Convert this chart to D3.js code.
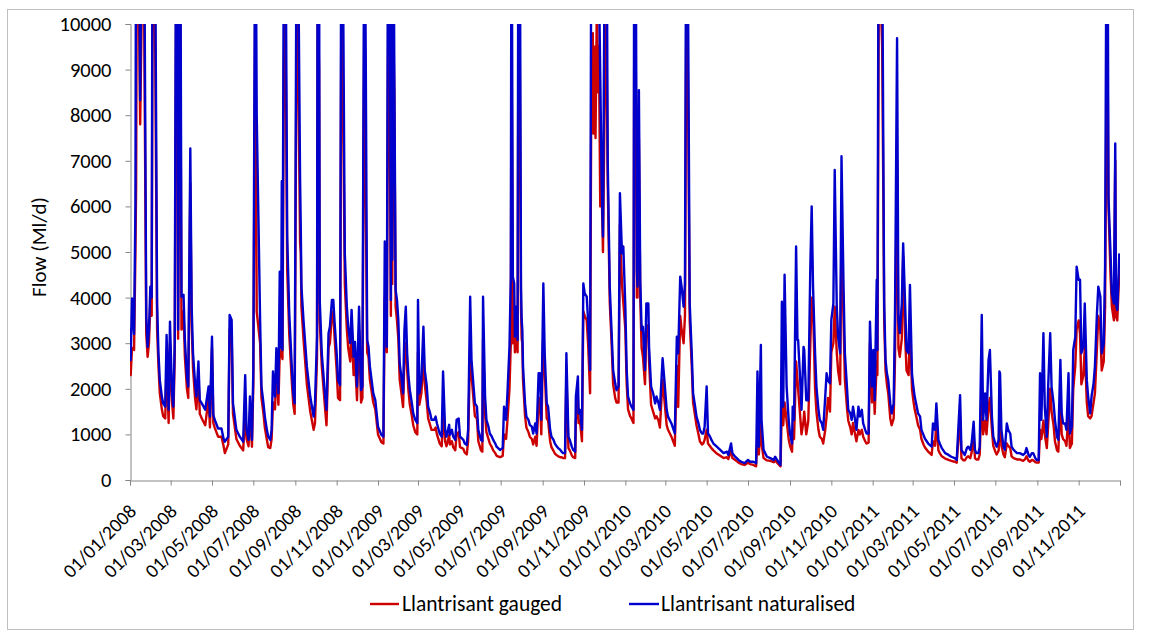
<!DOCTYPE html>
<html>
<head>
<meta charset="utf-8">
<script src="https://cdn.jsdelivr.net/npm/d3@7"></script>
<style>
  html, body { margin: 0; padding: 0; background: #fff; }
  svg { display: block; font-family: Calibri, Carlito, Lato, sans-serif; }
</style>
</head>
<body>
<svg id="chart" width="1149" height="634"></svg>
<script>
// Daily flow record, Llantrisant, 2008-2011. Day numbers count from 01/01/2008.
const dayNumber = [
  0,1,3,6,8,9,10,12,15,18,21,24,26,28,30,32,33,35,37,40,42,44,47,49,52,54,57,59,62,64,66,68,70,71,74,76,79,81,84,86,89,91,93,96,98,
  101,103,106,111,116,118,121,123,125,130,135,138,140,145,147,150,152,157,162,167,170,172,175,177,180,182,185,187,192,194,197,199,
  202,204,207,209,211,214,216,219,221,223,224,225,227,229,232,235,239,241,243,246,248,251,252,253,256,261,266,271,273,276,277,279,
  280,283,288,290,293,295,298,300,302,305,307,310,312,314,317,320,322,325,327,330,332,335,338,341,343,346,348,350,352,354,359,362,
  366,371,374,376,379,381,383,385,386,387,389,390,392,394,396,398,401,403,405,407,409,411,413,416,418,421,424,425,427,430,433,435,
  438,440,443,445,449,451,453,455,457,460,462,465,467,471,472,475,477,480,482,485,487,490,492,494,497,499,502,504,507,509,512,514,
  518,520,521,524,526,529,531,534,536,539,541,546,550,552,555,557,560,562,563,565,567,568,570,572,573,575,577,578,579,580,583,585,
  588,590,593,595,598,600,603,605,607,610,612,615,617,620,622,625,627,630,632,635,637,639,642,644,647,649,652,654,657,658,661,662,
  664,667,669,671,674,676,679,681,683,684,686,687,689,691,692,694,696,698,701,703,705,708,711,713,716,718,721,723,726,728,731,733,
  735,738,740,743,744,746,748,749,751,753,755,757,760,762,765,766,769,772,775,777,780,782,786,789,792,794,799,804,807,809,812,814,
  817,819,821,823,826,829,831,834,836,839,841,844,846,848,851,853,856,858,861,866,871,876,881,883,887,889,893,898,902,907,912,915,
  920,924,926,928,931,932,935,940,945,950,952,955,958,960,962,964,966,969,972,974,977,978,980,983,985,986,989,991,994,995,998,
  1001,1004,1006,1008,1011,1013,1016,1018,1021,1023,1026,1028,1030,1033,1035,1038,1040,1043,1045,1048,1050,1053,1055,1058,1060,
  1063,1065,1067,1070,1072,1075,1077,1080,1082,1085,1087,1090,1092,1095,1097,1099,1102,1103,1105,1107,1110,1112,1113,1115,1117,
  1119,1122,1124,1127,1129,1132,1134,1136,1139,1141,1144,1146,1149,1151,1154,1156,1158,1161,1163,1166,1168,1171,1173,1178,1183,
  1185,1188,1190,1193,1195,1198,1203,1208,1212,1217,1220,1225,1227,1230,1232,1235,1237,1240,1242,1245,1247,1249,1252,1254,1257,
  1259,1262,1264,1267,1269,1272,1274,1277,1279,1282,1283,1284,1286,1289,1291,1294,1296,1299,1301,1304,1309,1313,1318,1321,1323,
  1326,1328,1331,1333,1336,1338,1341,1343,1345,1348,1350,1353,1355,1358,1360,1363,1365,1368,1370,1373,1375,1377,1380,1382,1385,
  1387,1390,1392,1395,1397,1400,1402,1404,1407,1409,1412,1414,1417,1419,1422,1424,1427,1429,1432,1434,1437,1439,1442,1444,1447,
  1449,1452,1454,1455,1457,1460
];

// Naturalised flow (Ml/d)
const naturalised = [
  3330,2630,3980,3200,6000,13000,14000,15000,8330,14000,12000,3600,2920,3300,4240,4000,11000,16000,12000,3870,2780,2190,1830,1680,1610,3180,1540,3470,1900,1610,3000,13000,15000,3300,14000,4020,4060,3070,2270,2050,7270,3800,2780,2120,1830,
  2600,1750,1680,1540,2050,1390,3140,1430,1320,1130,1130,910,840,950,3620,3510,1680,1100,950,840,2300,1100,880,1830,880,2410,14000,8000,3510,2050,1680,1390,
  1100,950,880,1100,2380,1830,2890,1900,4570,2900,6550,2850,12000,14000,5340,3660,2410,1900,1680,13000,12000,6580,5560,4240,3510,2490,1830,1390,1680,3150,14000,12000,
  3950,2780,1830,1540,3220,3360,3950,3950,3440,2780,2190,2080,14000,12000,4970,3800,3360,3000,3730,2700,3030,2050,3800,1970,2050,14000,9000,3070,2920,2490,1900,1750,
  1170,990,950,5230,2920,14000,13000,3950,13000,4830,12000,9210,4170,3950,3510,2560,2190,1900,3290,3800,2780,2270,1970,1680,1460,1320,1250,3950,1900,2190,3360,2410,
  2050,1610,1460,1320,1320,1390,1240,1130,1020,950,2380,1100,950,1210,990,1100,950,880,1320,1350,950,910,880,800,770,1100,4020,2630,2050,1680,1610,1100,
  880,850,4020,1830,1320,1170,1020,950,880,800,730,660,700,1610,1320,1900,2920,4460,14000,4460,4310,3140,3800,3070,12000,14000,4240,3510,3290,2490,1680,1390,
  1320,1210,1170,1020,1240,1020,2340,2340,1320,4310,2780,1680,1610,1100,950,880,800,730,700,660,620,590,590,2780,950,880,730,660,620,1830,2270,1460,
  1540,1100,4310,4090,4020,3510,2410,14000,15000,12000,14000,11000,15000,12000,11000,8850,6580,5340,13000,14000,7000,4240,3140,2410,2120,1970,2050,6290,4970,5120,3800,2410,
  1830,1680,1610,1540,12000,14000,4600,4240,8550,4390,3290,3360,2410,3870,3870,2920,2050,1900,1680,1830,1680,1540,2670,2120,1540,1390,1240,1020,3140,2780,4460,4240,
  3800,4310,14000,12000,3870,2780,1900,1610,1390,1240,1100,1020,1020,1170,2050,1020,950,880,800,730,660,590,620,550,800,590,510,440,400,370,440,400,
  400,370,2380,730,2960,1320,660,510,480,440,510,440,370,330,3910,1610,4500,2050,1320,1020,800,1610,1320,5120,3070,3070,2190,1540,2920,2850,1750,
  1750,4680,6000,4240,2780,2050,1540,1320,1240,1100,1830,2340,2190,2120,3510,3870,6800,3800,3140,2780,7100,4240,2780,2050,1540,
  1460,1320,1610,1320,1100,1610,1390,1540,1240,1100,1020,1020,3470,2050,2850,1750,4390,2850,14000,15000,12000,6430,3870,2630,2340,
  2190,1680,1460,1680,3730,9690,3510,3220,3870,5190,3800,2850,2780,4280,2340,2050,1830,1610,1460,1390,1100,990,910,800,730,
  1240,1100,1680,880,800,700,590,550,510,480,440,1860,660,590,550,700,730,660,800,1280,660,590,590,730,3620,
  1320,1900,1320,2630,2850,1390,950,800,730,880,2380,2340,1100,730,660,1240,1100,1020,730,660,590,590,550,590,700,
  550,510,590,590,480,440,440,2340,1320,3220,1610,950,2050,3220,2050,1680,1320,950,880,2630,1460,1240,1240,1100,2340,
  1020,1170,2850,3140,4680,4390,4390,2780,2920,3870,2190,1830,1460,1830,2120,2490,3660,4240,4020,2780,3000,4680,16000,6210,4970,
  4090,3870,7380,3870,3730,4970
];

// Gauged flow (Ml/d)
const gauged = [
  2700,2300,2900,2850,5000,6400,11000,12000,7800,11000,10000,3200,2700,3000,3900,3600,9000,13000,10000,3300,2500,1900,1550,1400,1350,2600,1250,3000,1700,1350,2700,10500,12000,3100,11000,3300,3700,2700,2000,1800,6500,3400,2450,1800,1550,
  2300,1450,1350,1200,1800,1150,2900,1250,1150,950,950,750,590,780,3300,3200,1450,900,750,650,1500,900,740,1500,730,2100,11000,3700,3000,1800,1450,1150,
  880,720,700,900,1700,1550,2500,1650,2800,2700,3100,2650,9000,11000,4600,3200,2100,1650,1450,10500,9500,5200,5000,3800,3100,2100,1500,1100,1250,2700,11000,9000,
  3500,2500,1550,1200,2900,3000,3600,3700,3100,2400,1800,1750,11000,9000,4300,3300,2900,2600,3300,2300,2650,1750,3300,1700,1800,11000,6000,2800,2700,2200,1700,1550,
  1000,830,800,4000,2800,10000,9000,3600,10000,4300,9500,8500,3800,3500,3100,2200,1850,1600,2700,3000,2400,1950,1650,1400,1200,1050,1000,2800,1650,1900,2700,2100,
  1700,1350,1200,1100,1100,1150,1000,900,800,740,1500,850,740,980,780,850,720,650,1000,1050,720,700,680,600,560,850,2900,2300,1750,1400,1350,850,
  650,620,3100,1450,1050,900,800,720,650,590,530,500,530,1000,900,1300,2000,3000,10000,3000,3500,2800,3300,2800,9000,10000,3800,3100,3000,2200,1400,1150,
  1050,950,900,780,950,750,1700,1800,1000,3300,2400,1350,1300,850,720,640,580,540,520,500,500,480,480,2300,700,650,540,500,480,1300,1800,1250,
  1300,850,3700,3600,3500,3000,1900,9500,9800,7600,9500,7500,10500,8500,9500,6000,6400,5000,9000,10000,6500,3900,2900,2100,1800,1700,1700,5600,4300,3900,3300,2100,
  1550,1400,1350,1250,9000,10500,4000,4000,7500,4000,2900,2700,2100,3300,3400,2600,1650,1500,1350,1400,1300,1150,2200,1700,1200,1100,950,750,2500,1600,3600,3300,
  3000,3600,10500,9500,3500,2500,1700,1400,1200,1000,850,780,800,880,1100,800,740,700,650,580,530,480,500,460,650,480,440,380,350,330,380,350,
  330,300,1050,560,1300,800,480,430,420,390,430,380,330,300,1600,1200,1700,1300,900,750,620,1100,900,2600,2200,2000,1400,1000,1300,1500,1000,
  1300,3000,4000,3800,2000,1500,1100,950,900,800,1100,1400,1800,1500,2800,3000,3800,2800,2400,2100,5500,3500,2200,1600,1300,
  1150,1000,1250,1000,850,1100,1000,1100,950,850,800,820,3000,1700,2300,1450,2600,2300,10500,11000,9500,5800,3500,2400,2100,
  1900,1350,1200,1350,2700,7000,2900,2700,3100,4900,3100,2400,2300,3400,2000,1750,1550,1350,1200,1100,900,780,720,620,550,
  850,750,1300,650,590,520,470,440,420,400,380,1400,480,430,430,500,520,480,600,900,480,450,450,560,2000,
  1000,1300,1000,1600,1800,1100,750,620,560,650,1600,1500,750,560,500,800,750,700,520,480,450,450,420,460,520,
  420,400,440,430,390,380,380,1100,900,1300,1000,700,1200,2000,1500,1200,850,650,620,1800,1000,900,850,750,1500,
  700,800,2000,2500,3300,3500,3200,2100,2300,2900,1700,1400,1350,1400,1700,1900,2900,3600,3300,2400,2600,3800,11000,6000,4500,
  3800,3500,7000,3600,3500,4600
];

const seriesNames = ["Llantrisant gauged", "Llantrisant naturalised"];
const seriesColors = ["#CC0000", "#0000CC"];
const yTicks = [0, 1000, 2000, 3000, 4000, 5000, 6000, 7000, 8000, 9000, 10000];
const yTitle = "Flow (Ml/d)";

const startDate = new Date(Date.UTC(2008, 0, 1));
const endDate = new Date(Date.UTC(2012, 0, 1));
const tickDates = d3.utcMonth.every(2).range(startDate, d3.utcDay.offset(endDate, 1));

const records = dayNumber.map((d, i) => ({
  date: d3.utcDay.offset(startDate, d),
  gauged: gauged[i],
  naturalised: naturalised[i]
}));

const svg = d3.select("#chart");
const plot = { left: 130, right: 1120, top: 24, bottom: 480 };
const fontStack = "Calibri, Carlito, Lato, sans-serif";

const x = d3.scaleUtc().domain([startDate, endDate]).range([plot.left, plot.right]);
const y = d3.scaleLinear().domain([0, 10000]).range([plot.bottom, plot.top]);

// chart frame
svg.append("rect")
  .attr("x", 7.5).attr("y", 9.5)
  .attr("width", 1126).attr("height", 620)
  .attr("fill", "#fff").attr("stroke", "#bfbfbf").attr("stroke-width", 1);

svg.append("defs").append("clipPath").attr("id", "plot-clip")
  .append("rect")
  .attr("x", plot.left).attr("y", plot.top)
  .attr("width", plot.right - plot.left).attr("height", plot.bottom - plot.top);

// y axis
const yAxis = svg.append("g")
  .attr("transform", `translate(${plot.left + 0.5},0)`)
  .call(d3.axisLeft(y).tickValues(yTicks).tickSize(5).tickPadding(14).tickFormat(d3.format("d")));
yAxis.select(".domain").attr("stroke", "#868686");
yAxis.selectAll(".tick line").attr("stroke", "#868686");
yAxis.selectAll(".tick text")
  .attr("font-size", 20.5).attr("fill", "#000")
  .style("font-family", fontStack);

// x axis
const fmt = d3.utcFormat("%d/%m/%Y");
const xAxis = svg.append("g")
  .attr("transform", `translate(0,${plot.bottom + 0.5})`)
  .call(d3.axisBottom(x).tickValues(tickDates).tickSize(5)
    .tickFormat(d => (d < endDate ? fmt(d) : "")));
xAxis.select(".domain").attr("stroke", "#868686");
xAxis.selectAll(".tick line").attr("stroke", "#868686");
xAxis.selectAll(".tick text")
  .attr("x", null).attr("y", null).attr("dy", null)
  .attr("text-anchor", "end")
  .attr("transform", "translate(7,32) rotate(-45)")
  .attr("font-size", 19.5).attr("fill", "#000")
  .style("font-family", fontStack);

// y axis title
svg.append("text")
  .attr("transform", "translate(46,247) rotate(-90)")
  .attr("text-anchor", "middle")
  .attr("font-size", 21).attr("fill", "#000")
  .text(yTitle);

// series lines
const lines = svg.append("g").attr("clip-path", "url(#plot-clip)");
["gauged", "naturalised"].forEach((key, i) => {
  lines.append("path")
    .datum(records)
    .attr("fill", "none")
    .attr("stroke", seriesColors[i])
    .attr("stroke-width", 2.4)
    .attr("stroke-linejoin", "round")
    .attr("d", d3.line().x(d => x(d.date)).y(d => y(d[key])));
});

// legend
const legendItems = [
  { x1: 370, x2: 399, tx: 402 },
  { x1: 629, x2: 659, tx: 661 }
];
legendItems.forEach((it, i) => {
  svg.append("line")
    .attr("x1", it.x1).attr("x2", it.x2).attr("y1", 604).attr("y2", 604)
    .attr("stroke", seriesColors[i]).attr("stroke-width", 2.4);
  svg.append("text")
    .attr("x", it.tx).attr("y", 611)
    .attr("font-size", 21.5).attr("fill", "#000")
    .text(seriesNames[i]);
});
</script>
</body>
</html>
